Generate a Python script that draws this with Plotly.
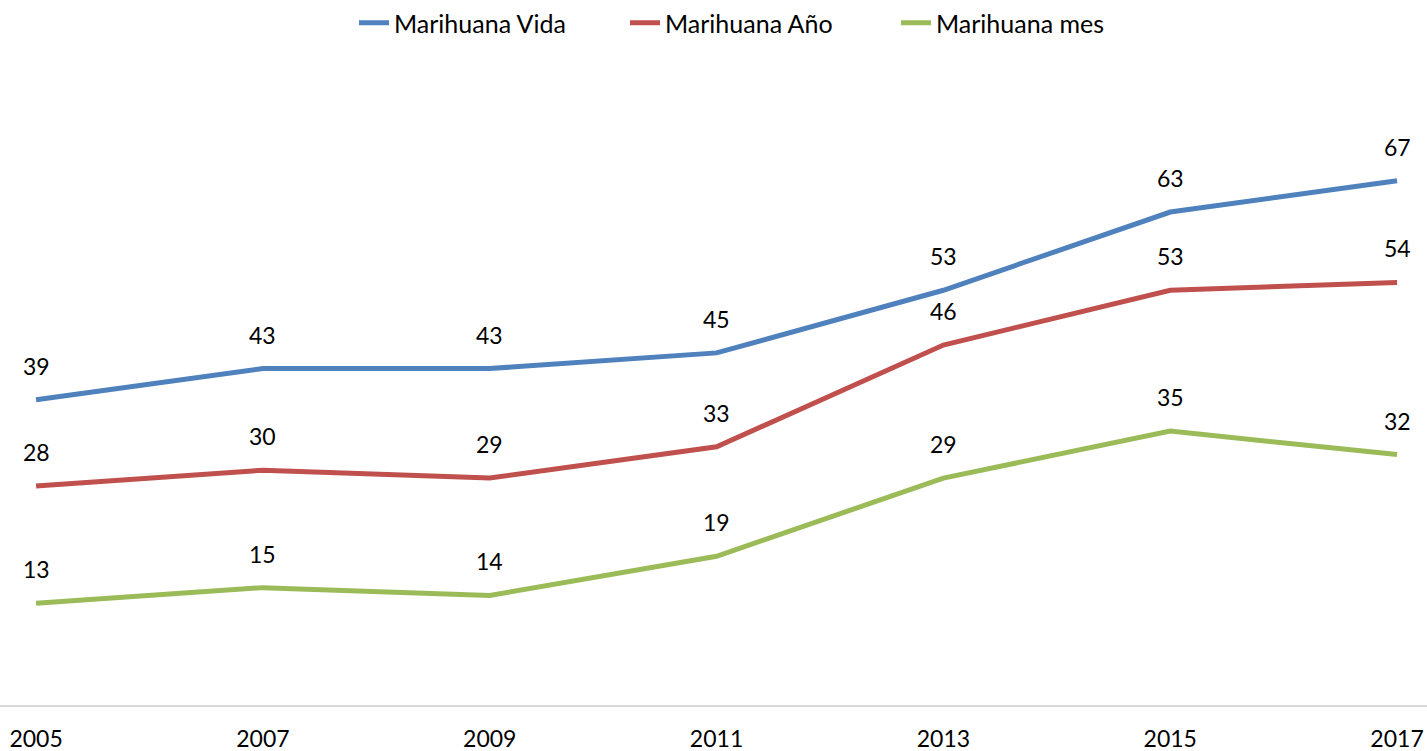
import plotly.graph_objects as go

years = ["2005", "2007", "2009", "2011", "2013", "2015", "2017"]
vida = [39, 43, 43, 45, 53, 63, 67]
anio = [28, 30, 29, 33, 46, 53, 54]
mes = [13, 15, 14, 19, 29, 35, 32]

series = [
    ("Marihuana Vida", vida, "#4F81BD"),
    ("Marihuana Año", anio, "#C0504D"),
    ("Marihuana mes", mes, "#9BBB59"),
]

FONT = "Lato, 'Open Sans', sans-serif"
xs = list(range(len(years)))

fig = go.Figure()
annotations = []
for name, vals, color in series:
    fig.add_trace(go.Scatter(
        x=xs, y=vals, name=name, mode="lines",
        line=dict(color=color, width=5),
        hoverinfo="skip",
    ))
    for xi, v in zip(xs, vals):
        annotations.append(dict(
            x=xi, y=v, xref="x", yref="y", text=str(v), showarrow=False,
            yshift=34, font=dict(family=FONT, size=23, color="#000000"),
        ))

fig.update_layout(
    width=1427, height=751,
    margin=dict(l=0, r=0, t=73, b=46),
    paper_bgcolor="white", plot_bgcolor="white",
    showlegend=True,
    legend=dict(
        orientation="h", x=354 / 1427, xanchor="left",
        y=1 + 80 / 632, yanchor="top", yref="paper",
        font=dict(family=FONT, size=25, color="#000000"),
        entrywidth=226, entrywidthmode="pixels", traceorder="normal",
    ),
    annotations=annotations,
    xaxis=dict(
        range=[-0.159, 6.132], tickmode="array", tickvals=xs, ticktext=years,
        showgrid=False, zeroline=False, showline=True, linecolor="#D9D9D9",
        linewidth=2, ticks="", ticklabelstandoff=12, automargin=False,
        tickfont=dict(family=FONT, size=23, color="#000000"),
    ),
    yaxis=dict(
        range=[0, 80], showgrid=False, zeroline=False, showline=False,
        showticklabels=False, ticks="", automargin=False,
    ),
)

fig.write_html(
    "out.html",
    config={"displayModeBar": False},
    post_script="document.body.style.margin='0';document.body.style.overflow='hidden';",
)
